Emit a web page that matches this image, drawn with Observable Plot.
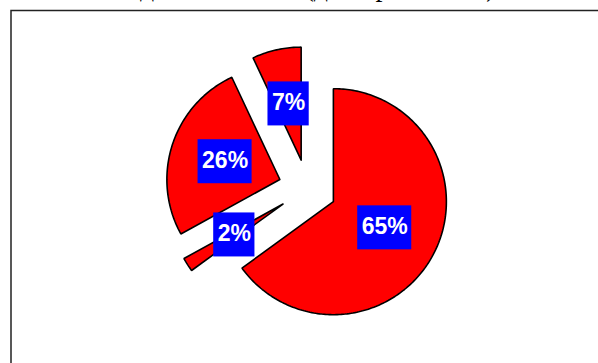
<!DOCTYPE html>
<html>
<head>
<meta charset="utf-8">
<script src="https://cdn.jsdelivr.net/npm/d3@7"></script>
<script src="https://cdn.jsdelivr.net/npm/@observablehq/plot@0.6"></script>
<style>
  html, body { margin: 0; padding: 0; background: #fff; overflow: hidden; }
  #chart svg { display: block; }
</style>
</head>
<body>
<div id="chart"></div>
<script>
// ---- data (clockwise from 12 o'clock) ----
const title = "Медиакомпании (доля рынка, %)";
const slices = ["Сегмент 1", "Сегмент 2", "Сегмент 3", "Сегмент 4"];
const shares = [65, 2, 26, 7];
const labels = ["65%", "2%", "26%", "7%"];

// ---- geometry (unit circle, y up) ----
const W = 598, H = 363;
const R = 113;            // pixels per unit radius
const CX = 307, CY = 188; // pie centre in pixels
const EXPLODE = 0.257;    // explosion distance (radius units)
const LABEL_R = 0.51;     // label distance from slice vertex
const LABEL_FONT = 23;

const arcs = d3.pie().sort(null).value(d => d)(shares);
const pts = [];
const labelData = [];
const ctx = document.createElement("canvas").getContext("2d");
ctx.font = `bold ${LABEL_FONT}px 'Liberation Sans', Arial, sans-serif`;

arcs.forEach((a, i) => {
  const mid = (a.startAngle + a.endAngle) / 2;
  const ox = EXPLODE * Math.sin(mid), oy = EXPLODE * Math.cos(mid);
  pts.push({slice: slices[i], x: ox, y: oy});
  const n = Math.max(2, Math.ceil((a.endAngle - a.startAngle) / (Math.PI / 180)));
  for (let k = 0; k <= n; k++) {
    const t = a.startAngle + (a.endAngle - a.startAngle) * k / n;
    pts.push({slice: slices[i], x: ox + Math.sin(t), y: oy + Math.cos(t)});
  }
  pts.push({slice: slices[i], x: ox, y: oy});
  const tw = ctx.measureText(labels[i]).width;
  labelData.push({
    label: labels[i],
    x: ox + LABEL_R * Math.sin(mid),
    y: oy + LABEL_R * Math.cos(mid),
    hw: (tw / 2 + 4) / R,
    hh: 22 / R
  });
});

const chart = Plot.plot({
  width: W,
  height: H,
  margin: 0,
  style: {background: "white", overflow: "hidden"},
  x: {domain: [-CX / R, (W - CX) / R], axis: null},
  y: {domain: [-(H - CY) / R, CY / R], axis: null},
  marks: [
    Plot.frame({stroke: "#222", strokeWidth: 1.5, insetLeft: 10.5, insetTop: 10, insetRight: -20, insetBottom: -20}),
    Plot.text([title], {
      text: d => d, frameAnchor: "top", lineAnchor: "top", dy: -24,
      fontSize: 28, fontFamily: "'Liberation Serif', 'Times New Roman', serif", fill: "black"
    }),
    Plot.line(pts, {
      x: "x", y: "y", z: "slice", fill: "#FF0000", stroke: "black",
      strokeWidth: 1.6, strokeLinejoin: "miter", curve: "linear"
    }),
    Plot.rect(labelData, {
      x1: d => d.x - d.hw, x2: d => d.x + d.hw,
      y1: d => d.y - d.hh, y2: d => d.y + d.hh,
      fill: "#0000FF"
    }),
    Plot.text(labelData, {
      x: "x", y: "y", text: "label", fill: "white", dy: -1,
      fontSize: LABEL_FONT, fontWeight: "bold", fontFamily: "'Liberation Sans', Arial, sans-serif"
    })
  ]
});
document.getElementById("chart").appendChild(chart);
</script>
</body>
</html>
